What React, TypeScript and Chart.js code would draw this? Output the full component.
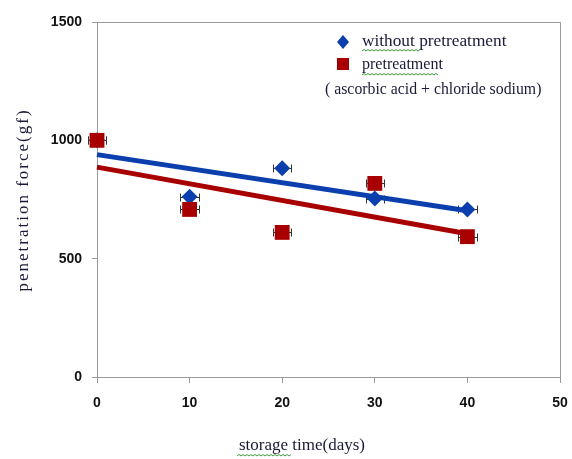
import React, { useEffect, useRef } from 'react';
import { Chart, registerables } from 'chart.js';

Chart.register(...registerables);

const days = [0, 10, 20, 30, 40];
const withoutPretreatment = [1000, 762, 882, 754, 708];
const pretreatment = [1000, 708, 611, 818, 593];
const dayError = [1, 1, 1, 1, 1];
const xTickStep = 10;
const yTickStep = 500;
const xRange = [0, 50];
const yRange = [0, 1500];
const seriesLabels = ['without pretreatment', 'pretreatment'];
const legendNote = '( ascorbic acid + chloride sodium)';
const xTitle = 'storage time(days)';
const yTitle = 'penetration force(gf)';

const BLUE = '#0b3fae';
const RED = '#a80000';
const AXIS = '#9a9a9a';
const TEXT = '#1a1a38';

function trend(xs: number[], ys: number[]) {
  const n = xs.length;
  const mx = xs.reduce((a, b) => a + b, 0) / n;
  const my = ys.reduce((a, b) => a + b, 0) / n;
  let sxy = 0;
  let sxx = 0;
  for (let i = 0; i < n; i++) {
    sxy += (xs[i] - mx) * (ys[i] - my);
    sxx += (xs[i] - mx) * (xs[i] - mx);
  }
  const slope = sxy / sxx;
  const icpt = my - slope * mx;
  const x0 = xs[0];
  const x1 = xs[n - 1];
  return [
    { x: x0, y: icpt + slope * x0 },
    { x: x1, y: icpt + slope * x1 },
  ];
}

function squiggle(ctx: CanvasRenderingContext2D, x0: number, x1: number, y: number) {
  ctx.save();
  ctx.strokeStyle = '#3c9c3c';
  ctx.lineWidth = 1;
  ctx.beginPath();
  let up = true;
  ctx.moveTo(x0, y);
  for (let x = x0 + 2; x <= x1; x += 2) {
    ctx.lineTo(x, up ? y - 1.5 : y);
    up = !up;
  }
  ctx.stroke();
  ctx.restore();
}

const decorPlugin = {
  id: 'decor',
  beforeDatasetsDraw(chart: any) {
    const { ctx, chartArea, scales } = chart;
    ctx.save();
    ctx.strokeStyle = AXIS;
    ctx.lineWidth = 1;
    ctx.strokeRect(chartArea.left + 0.5, chartArea.top + 0.5, chartArea.right - chartArea.left, chartArea.bottom - chartArea.top);
    ctx.strokeStyle = '#333';
    ctx.lineWidth = 1;
    const series = [withoutPretreatment, pretreatment];
    series.forEach((vals) => {
      days.forEach((d, i) => {
        const xa = Math.round(scales.x.getPixelForValue(d - dayError[i])) + 0.5;
        const xb = Math.round(scales.x.getPixelForValue(d + dayError[i])) + 0.5;
        const y = Math.round(scales.y.getPixelForValue(vals[i])) + 0.5;
        ctx.beginPath();
        ctx.moveTo(xa, y);
        ctx.lineTo(xb, y);
        ctx.moveTo(xa, y - 4);
        ctx.lineTo(xa, y + 4);
        ctx.moveTo(xb, y - 4);
        ctx.lineTo(xb, y + 4);
        ctx.stroke();
      });
    });
    ctx.restore();
  },
  afterDraw(chart: any) {
    const { ctx } = chart;
    ctx.save();
    ctx.fillStyle = BLUE;
    ctx.beginPath();
    ctx.moveTo(343, 35);
    ctx.lineTo(349, 42);
    ctx.lineTo(343, 49);
    ctx.lineTo(337, 42);
    ctx.closePath();
    ctx.fill();
    ctx.fillStyle = RED;
    ctx.fillRect(337, 58, 12, 12);
    ctx.fillStyle = TEXT;
    ctx.textBaseline = 'middle';
    ctx.textAlign = 'left';
    ctx.font = '17.3px "Liberation Serif"';
    ctx.fillText(seriesLabels[0], 362, 41);
    ctx.font = '16px "Liberation Serif"';
    ctx.fillText(seriesLabels[1], 362, 65);
    ctx.font = '15.8px "Liberation Serif"';
    ctx.fillText(legendNote, 325, 90);
    squiggle(ctx, 362, 420, 51);
    squiggle(ctx, 362, 438, 75);

    ctx.font = '17px "Liberation Serif"';
    ctx.textAlign = 'center';
    ctx.textBaseline = 'middle';
    ctx.fillText(xTitle, 302, 446);
    squiggle(ctx, 237, 291, 456);
    ctx.translate(24, 200);
    ctx.rotate(-Math.PI / 2);
    (ctx as any).letterSpacing = '2px';
    ctx.fillText(yTitle, 0, 0);
    ctx.restore();
  },
};

export default function App() {
  const ref = useRef<HTMLCanvasElement | null>(null);

  useEffect(() => {
    document.body.style.margin = '0';
    const canvas = ref.current;
    if (!canvas) return;
    const chart = new Chart(canvas, {
      type: 'scatter',
      data: {
        datasets: [
          {
            label: seriesLabels[1],
            data: days.map((d, i) => ({ x: d, y: pretreatment[i] })),
            pointStyle: 'rect',
            pointRadius: 10.5,
            backgroundColor: RED,
            borderColor: RED,
            borderWidth: 0,
            order: 0,
          },
          {
            label: seriesLabels[0],
            data: days.map((d, i) => ({ x: d, y: withoutPretreatment[i] })),
            pointStyle: 'rectRot',
            pointRadius: 8,
            backgroundColor: BLUE,
            borderColor: BLUE,
            borderWidth: 0,
            order: 1,
          },
          {
            type: 'line',
            label: 'trend pretreatment',
            data: trend(days, pretreatment),
            borderColor: RED,
            borderWidth: 5,
            pointRadius: 0,
            fill: false,
            order: 2,
          },
          {
            type: 'line',
            label: 'trend without',
            data: trend(days, withoutPretreatment),
            borderColor: BLUE,
            borderWidth: 5,
            pointRadius: 0,
            fill: false,
            order: 3,
          },
        ] as any,
      },
      options: {
        responsive: false,
        devicePixelRatio: 1,
        animation: false,
        clip: false as any,
        layout: { padding: { left: 0, top: 22, right: 12, bottom: 0 } },
        plugins: {
          legend: { display: false },
          tooltip: { enabled: false },
        },
        scales: {
          x: {
            type: 'linear',
            min: xRange[0],
            max: xRange[1],
            ticks: {
              stepSize: xTickStep,
              color: '#111',
              padding: 12,
              font: { family: 'Liberation Sans', size: 14, weight: 'bold' },
              callback: (v: any) => String(v),
            },
            grid: { drawOnChartArea: false, drawTicks: true, tickLength: 6, color: AXIS },
            border: { color: AXIS, width: 1 },
            afterFit: (s: any) => {
              s.height = 82;
              s.paddingRight = 0;
              s.paddingLeft = 0;
            },
          },
          y: {
            type: 'linear',
            min: yRange[0],
            max: yRange[1],
            ticks: {
              stepSize: yTickStep,
              color: '#111',
              padding: 10,
              font: { family: 'Liberation Sans', size: 14, weight: 'bold' },
              callback: (v: any) => String(v),
            },
            grid: { drawOnChartArea: false, drawTicks: true, tickLength: 5, color: AXIS },
            border: { color: AXIS, width: 1 },
            afterFit: (s: any) => {
              s.width = 97;
              s.paddingTop = 0;
              s.paddingBottom = 0;
            },
          },
        },
      },
      plugins: [decorPlugin],
    });
    return () => chart.destroy();
  }, []);

  return (
    <div style={{ position: 'absolute', left: 0, top: 0, width: 572, height: 459, background: '#fff' }}>
      <canvas ref={ref} width={572} height={459} />
    </div>
  );
}
